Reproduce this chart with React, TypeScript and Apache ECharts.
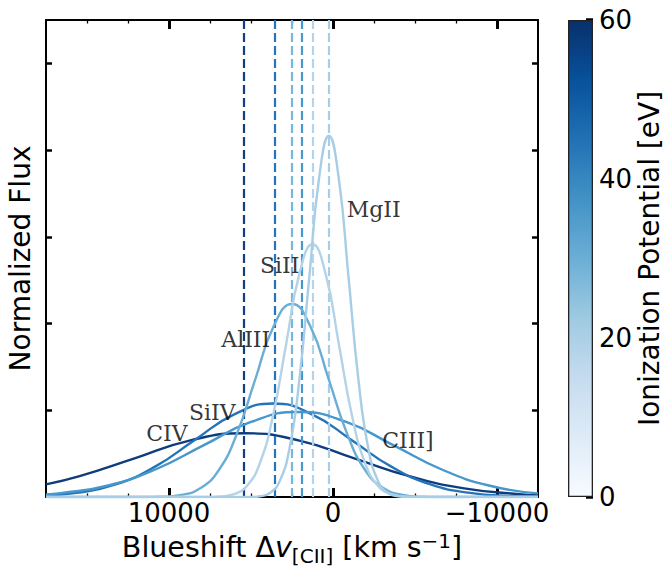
import React, { useEffect, useRef } from 'react';
import * as echarts from 'echarts';

// ---- data ----
const ionNames = ['CIV', 'SiIV', 'CIII]', 'AlIII', 'SiII', 'MgII'];
const ionColors = ['#0d3d7e', '#2474b7', '#4697cb', '#6aaed6', '#b3d3e9', '#a8cde6'];

const civX = [17500, 15450, 12100, 8750, 5400, 2050, -1300, -4650, -8000, -11350, -12500];
const civY = [0.029, 0.048, 0.089, 0.130, 0.147, 0.130, 0.089, 0.048, 0.020, 0.0065, 0.004];

const siivX = [17500, 15650, 13250, 10850, 8450, 6050, 3650, 1250, -1150, -3550, -5950, -8350, -10750, -12500];
const siivY = [0.0034, 0.0095, 0.029, 0.070, 0.131, 0.190, 0.2155, 0.190, 0.131, 0.070, 0.029, 0.0095, 0.0024, 0.0008];

const ciiiX = [17500, 16600, 13700, 10800, 7900, 5000, 2100, -800, -3700, -6600, -9500, -12500];
const ciiiY = [0.0058, 0.0086, 0.0265, 0.064, 0.119, 0.173, 0.196, 0.173, 0.119, 0.064, 0.0265, 0.0083];

const aliiiX = [17500, 11500, 10500, 9250, 8125, 7000, 5875, 4750, 3625, 2500, 1375, 250, -875, -2000, -3125, -4250, -5375, -6500, -12500];
const aliiiY = [0, 0, 0.0006, 0.0049, 0.0195, 0.060, 0.1445, 0.270, 0.393, 0.445, 0.393, 0.270, 0.1445, 0.060, 0.0195, 0.0049, 0.0006, 0, 0];

const siiiX = [17500, 7650, 6850, 6050, 5250, 4450, 3650, 2850, 2050, 1250, 450, -350, -1150, -1950, -2750, -3550, -4350, -5150, -12500];
const siiiY = [0, 0, 0.0013, 0.0065, 0.0256, 0.079, 0.189, 0.354, 0.5145, 0.583, 0.5145, 0.354, 0.189, 0.079, 0.0256, 0.0065, 0.0013, 0, 0];

const mgiiX = [17500, 5050, 4450, 3850, 3250, 2650, 2050, 1450, 850, 250, -350, -950, -1550, -2150, -2750, -3350, -3950, -4550, -12500];
const mgiiY = [0, 0, 0.0018, 0.0092, 0.0366, 0.1127, 0.2705, 0.5052, 0.7351, 0.833, 0.7351, 0.5052, 0.2705, 0.1127, 0.0366, 0.0092, 0.0018, 0, 0];

const curvesX = [civX, siivX, ciiiX, aliiiX, siiiX, mgiiX];
const curvesY = [civY, siivY, ciiiY, aliiiY, siiiY, mgiiY];

// dashed line positions (blueshift, km/s)
const dashedPos = [5420, 3530, 1920, 2530, 1250, 250];
const dashedColors = ['#123f80', '#2474b7', '#4697cb', '#7ab6dc', '#b5d4ea', '#a8cde6'];

// label anchor positions (data units)
const labelX = [10130, 7360, -4570, 5320, 3250, -2480];
const labelY = [0.146, 0.195, 0.131, 0.363, 0.534, 0.664];

const xMajorTicks = [10000, 0, -10000];
const xMinorTicks = [15000, 12500, 7500, 5000, 2500, -2500, -5000, -7500];
const yMajorTicks = [0.2, 0.4, 0.6, 0.8, 1.0];
const cbarMin = 0;
const cbarMax = 60;
const cbarTicks = [0, 20, 40, 60];

const bluesStops = ['#f7fbff', '#deebf7', '#c6dbef', '#9ecae1', '#6baed6', '#4292c6', '#2171b5', '#08519c', '#08306b'];

const FONT = 'DejaVu Sans';

function fmtX(v: number) {
  return v < 0 ? '\u2212' + Math.abs(v) : String(v);
}

export default function App() {
  const ref = useRef<HTMLDivElement>(null);
  useEffect(() => {
    document.body.style.margin = '0';
    const chart = echarts.init(ref.current!, null, { renderer: 'svg' });

    const lineSeries = ionNames.map((name, i) => ({
      type: 'line',
      name,
      xAxisIndex: 0,
      yAxisIndex: 0,
      data: curvesX[i].map((x, k) => [x, curvesY[i][k]]),
      showSymbol: false,
      symbol: 'none',
      smooth: 0.5,
      lineStyle: { color: ionColors[i], width: 2.4 },
      z: 3 + i,
      markLine: {
        silent: true,
        symbol: ['none', 'none'],
        label: { show: false },
        lineStyle: { color: dashedColors[i], type: [9, 4], width: 2.2 },
        data: [{ xAxis: dashedPos[i] }],
      },
    }));

    const labelSeries = {
      type: 'scatter',
      xAxisIndex: 0,
      yAxisIndex: 0,
      symbolSize: 1,
      itemStyle: { color: 'rgba(0,0,0,0)' },
      silent: true,
      z: 20,
      data: ionNames.map((n, i) => ({ name: n, value: [labelX[i], labelY[i]] })),
      label: {
        show: true,
        position: 'inside',
        formatter: (p: any) => p.name,
        fontFamily: 'DejaVu Serif',
        fontSize: 22,
        color: '#000',
        textBorderWidth: 0,
      },
    };

    const cbarSeries = {
      type: 'bar',
      xAxisIndex: 4,
      yAxisIndex: 2,
      barWidth: '100%',
      data: [cbarMax],
      silent: true,
      itemStyle: {
        color: new echarts.graphic.LinearGradient(
          0, 1, 0, 0,
          bluesStops.map((c, i) => ({ offset: i / (bluesStops.length - 1), color: c }))
        ),
        borderColor: '#222',
        borderWidth: 1.3,
      },
    };

    const axLine = { show: true, onZero: false, lineStyle: { color: '#000', width: 2 } };

    const option: any = {
      animation: false,
      backgroundColor: '#fff',
      grid: [
        { left: 46, top: 20, width: 492, height: 477, outerBoundsMode: 'none', containLabel: false },
        { left: 568, top: 20, width: 25, height: 477, outerBoundsMode: 'none', containLabel: false },
      ],
      xAxis: [
        {
          gridIndex: 0, type: 'value', position: 'bottom', min: -12500, max: 17500, inverse: true,
          axisLine: axLine,
          axisTick: { show: true, inside: true, length: 9, lineStyle: { color: '#000', width: 3 }, customValues: xMajorTicks },
          axisLabel: { show: true, customValues: xMajorTicks, formatter: fmtX, fontSize: 26, fontFamily: FONT, color: '#000', margin: 3 },
          splitLine: { show: false },
          name: '{a|Blueshift Δ}{i|v}{s|[CII]}{a| [km s}{p|\u22121}{a|]}',
          nameLocation: 'middle',
          nameGap: 29,
          nameTextStyle: {
            color: '#000', fontFamily: FONT, fontSize: 28.5,
            rich: {
              a: { fontSize: 28.5, fontFamily: FONT, color: '#000', lineHeight: 36 },
              i: { fontSize: 28.5, fontFamily: FONT, fontStyle: 'italic', color: '#000', lineHeight: 36 },
              s: { fontSize: 20, fontFamily: FONT, color: '#000', verticalAlign: 'middle', padding: [16, 0, 0, 0] },
              p: { fontSize: 20, fontFamily: FONT, color: '#000', verticalAlign: 'middle', padding: [0, 0, 14, 0] },
            },
          },
        },
        {
          gridIndex: 0, type: 'value', position: 'bottom', min: -12500, max: 17500, inverse: true,
          axisLine: { show: false, onZero: false },
          axisTick: { show: true, inside: true, length: 3.5, lineStyle: { color: '#000', width: 1.3 }, customValues: xMinorTicks },
          axisLabel: { show: false },
          splitLine: { show: false },
        },
        {
          gridIndex: 0, type: 'value', position: 'top', min: -12500, max: 17500, inverse: true,
          axisLine: axLine,
          axisTick: { show: true, inside: true, length: 9, lineStyle: { color: '#000', width: 3 }, customValues: xMajorTicks },
          axisLabel: { show: false },
          splitLine: { show: false },
        },
        {
          gridIndex: 0, type: 'value', position: 'top', min: -12500, max: 17500, inverse: true,
          axisLine: { show: false, onZero: false },
          axisTick: { show: true, inside: true, length: 3.5, lineStyle: { color: '#000', width: 1.3 }, customValues: xMinorTicks },
          axisLabel: { show: false },
          splitLine: { show: false },
        },
        {
          gridIndex: 1, type: 'category', data: ['cb'], show: false,
        },
      ],
      yAxis: [
        {
          gridIndex: 0, type: 'value', position: 'left', min: 0, max: 1.1,
          axisLine: axLine,
          axisTick: { show: true, inside: true, length: 6, lineStyle: { color: '#000', width: 2.5 }, customValues: yMajorTicks },
          axisLabel: { show: false },
          splitLine: { show: false },
          name: 'Normalized Flux',
          nameLocation: 'middle',
          nameRotate: 90,
          nameGap: 12,
          nameTextStyle: { color: '#000', fontFamily: FONT, fontSize: 28 },
        },
        {
          gridIndex: 0, type: 'value', position: 'right', min: 0, max: 1.1,
          axisLine: axLine,
          axisTick: { show: true, inside: true, length: 6, lineStyle: { color: '#000', width: 2.5 }, customValues: yMajorTicks },
          axisLabel: { show: false },
          splitLine: { show: false },
        },
        {
          gridIndex: 1, type: 'value', position: 'right', min: cbarMin, max: cbarMax,
          axisLine: { show: false, onZero: false },
          axisTick: { show: true, inside: true, length: 7, lineStyle: { color: '#000', width: 3.5 }, customValues: cbarTicks },
          axisLabel: { show: true, customValues: cbarTicks, fontSize: 26, fontFamily: FONT, color: '#000', margin: 6 },
          splitLine: { show: false },
          name: 'Ionization Potential [eV]',
          nameLocation: 'middle',
          nameRotate: 90,
          nameGap: 41,
          nameTextStyle: { color: '#000', fontFamily: FONT, fontSize: 28 },
        },
      ],
      series: [...lineSeries, labelSeries, cbarSeries],
    };

    chart.setOption(option);
    return () => chart.dispose();
  }, []);

  return <div ref={ref} style={{ width: 665, height: 567 }} />;
}
